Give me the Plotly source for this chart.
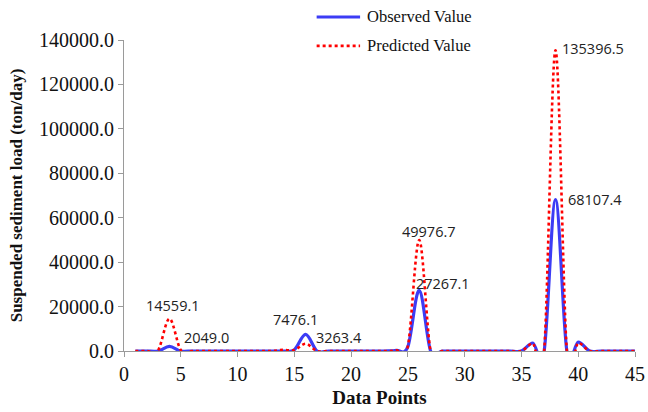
import plotly.graph_objects as go

x_points = list(range(1, 46))
observed = [0, 0, 0, 2049.0, 0, 0, 0, 0, 0, 0,
            0, 0, 0, 0, 600, 7476.1, 0, 0, 0, 0,
            0, 0, 0, 300, 2000, 27267.1, 0, 0, 0, 0,
            0, 0, 0, 0, 0, 3600, 0, 68107.4, 0, 4000,
            0, 0, 0, 0, 0]
predicted = [0, 0, 300, 14559.1, 400, 0, 0, 0, 0, 0,
             0, 0, 0, 500, 400, 3263.4, 0, 0, 0, 0,
             0, 0, 0, 300, 2200, 49976.7, 0, 0, 0, 0,
             0, 0, 0, 0, 0, 3400, 0, 135396.5, 0, 3600,
             0, 0, 0, 0, 0]
series_names = ["Observed Value", "Predicted Value"]

labels = [
    ("14559.1", 4.32, 20300, "center"),
    ("2049.0", 5.1, 6300, "left"),
    ("7476.1", 15.07, 14400, "center"),
    ("3263.4", 16.7, 6300, "left"),
    ("49976.7", 26.87, 53600, "center"),
    ("27267.1", 25.5, 30600, "left"),
    ("135396.5", 38.4, 136400, "left"),
    ("68107.4", 38.95, 68000, "left"),
]


def smooth_path(xs, ys):
    """Excel-style smoothed line: cubic Bezier segments (uniform Catmull-Rom)
    built from the data points, expressed in data coordinates."""
    n = len(xs)
    px = [xs[0]] + list(xs) + [xs[-1]]
    py = [ys[0]] + list(ys) + [ys[-1]]
    parts = [f"M {xs[0]},{ys[0]}"]
    for i in range(1, n):
        x0, y0 = px[i], py[i]
        x1, y1 = px[i + 1], py[i + 1]
        c1x = x0 + (x1 - px[i - 1]) / 6.0
        c1y = y0 + (y1 - py[i - 1]) / 6.0
        c2x = x1 - (px[i + 2] - x0) / 6.0
        c2y = y1 - (py[i + 2] - y0) / 6.0
        parts.append(f"C {c1x},{c1y} {c2x},{c2y} {x1},{y1}")
    return " ".join(parts)


blue = "#3c3cf5"
red = "#ff0000"
styles = [dict(color=blue, width=3.2), dict(color=red, width=2.6, dash="dot")]
serif = "Liberation Serif, Times New Roman, serif"

fig = go.Figure()
for name, ys, st in zip(series_names, [observed, predicted], styles):
    # data points (invisible markers, for hover); the curve is the smoothed path below
    fig.add_trace(go.Scatter(x=x_points, y=ys, mode="markers", name=name,
                             marker=dict(color=st["color"], size=6, opacity=0),
                             showlegend=False))
    fig.add_shape(type="path", xref="x", yref="y", path=smooth_path(x_points, ys),
                  line=st, layer="above")

# manual legend (paper coordinates, so it does not push the margins)
leg_y = [1.074, 0.981]
for name, st, ly in zip(series_names, styles, leg_y):
    fig.add_shape(type="line", xref="paper", yref="paper", x0=0.377, x1=0.462,
                  y0=ly, y1=ly, line=st)
    fig.add_annotation(xref="paper", yref="paper", x=0.472, y=ly, text=name,
                       showarrow=False, xanchor="left", yanchor="middle",
                       font=dict(family=serif, size=16.5, color="#111111"))

for txt, lx, ly, anc in labels:
    fig.add_annotation(x=lx, y=ly, text=txt, showarrow=False, xanchor=anc,
                       yanchor="middle",
                       font=dict(family="Open Sans, Liberation Sans", size=14.5, color="#222222"))

fig.update_layout(
    width=648, height=412,
    margin=dict(l=124, r=13, t=40, b=61),
    plot_bgcolor="white", paper_bgcolor="white",
    showlegend=False,
    xaxis=dict(range=[0, 45], dtick=5, tick0=0, showgrid=False, zeroline=False,
               showline=True, linecolor="#9a9a9a", linewidth=1, automargin=False,
               ticks="outside", ticklen=5, tickcolor="#9a9a9a",
               tickfont=dict(family=serif, size=20, color="#111111"),
               title=dict(text="<b>Data Points</b>", standoff=6,
                          font=dict(family=serif, size=19, color="#111111"))),
    yaxis=dict(range=[0, 140000], dtick=20000, tickformat=".1f", showgrid=False,
               zeroline=False, showline=True, linecolor="#9a9a9a", linewidth=1,
               ticks="outside", ticklen=5, tickcolor="#9a9a9a",
               tickfont=dict(family=serif, size=20, color="#111111"),
               title=dict(text="<b>Suspended sediment load (ton/day)</b>", standoff=12,
                          font=dict(family=serif, size=17, color="#111111"))),
)

fig.write_html("out.html")
